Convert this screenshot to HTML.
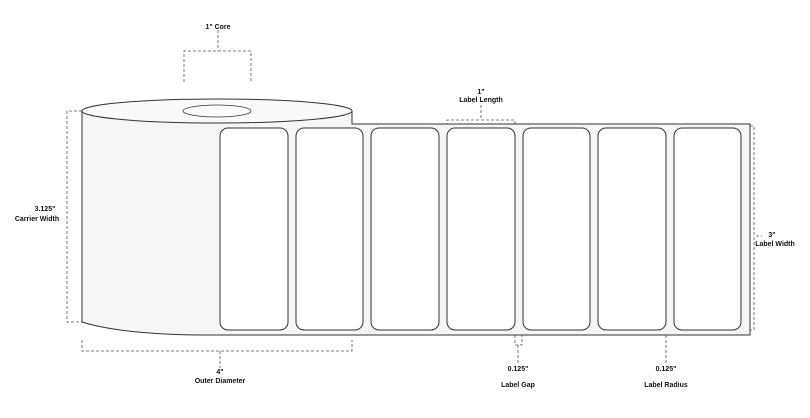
<!DOCTYPE html>
<html><head><meta charset="utf-8"><style>
body{margin:0;background:#fff}
svg text{font-family:"Liberation Sans",sans-serif;font-weight:bold;font-size:7px;fill:#111;text-anchor:middle}
</style></head><body>
<svg width="810" height="413" viewBox="0 0 810 413" xmlns="http://www.w3.org/2000/svg">
<g fill="none" stroke="#555" stroke-width="0.8" stroke-dasharray="3,2">
<path d="M218 30V51M184 82V51H251V82"/>
<path d="M82 111H67V322H82"/>
<path d="M82 340V351H352V340M220 351V368"/>
<path d="M481 105V120M447 126V120H515V126"/>
<path d="M750 126H754V330H750M756 236H762"/>
<path d="M515 330V345H522V330M518 345V363"/>
<path d="M666 330V363"/>
</g>
<path d="M82 111V322Q120 334 200 335H750V124H352V111Z" fill="#f6f6f6" stroke="#333" stroke-width="1"/>
<ellipse cx="217" cy="111" rx="135" ry="12" fill="#fafafa" stroke="#333" stroke-width="1"/>
<ellipse cx="217" cy="111" rx="34" ry="6" fill="none" stroke="#333" stroke-width="0.8"/>
<g fill="#fff" stroke="#333" stroke-width="1">
<rect x="220" y="128" width="68" height="202" rx="8"/>
<rect x="296" y="128" width="67" height="202" rx="8"/>
<rect x="371" y="128" width="68" height="202" rx="8"/>
<rect x="447" y="128" width="68" height="202" rx="8"/>
<rect x="523" y="128" width="67" height="202" rx="8"/>
<rect x="598" y="128" width="68" height="202" rx="8"/>
<rect x="674" y="128" width="67" height="202" rx="8"/>
</g>
<text x="218" y="29">1" Core</text>
<text x="45" y="211">3.125"</text><text x="37" y="221">Carrier Width</text>
<text x="220" y="374">4"</text><text x="220" y="383">Outer Diameter</text>
<text x="481" y="94">1"</text><text x="481" y="102">Label Length</text>
<text x="772" y="237">3"</text><text x="775" y="246">Label Width</text>
<text x="518" y="371">0.125"</text><text x="518" y="387">Label Gap</text>
<text x="666" y="371">0.125"</text><text x="666" y="387">Label Radius</text>
</svg>
</body></html>
